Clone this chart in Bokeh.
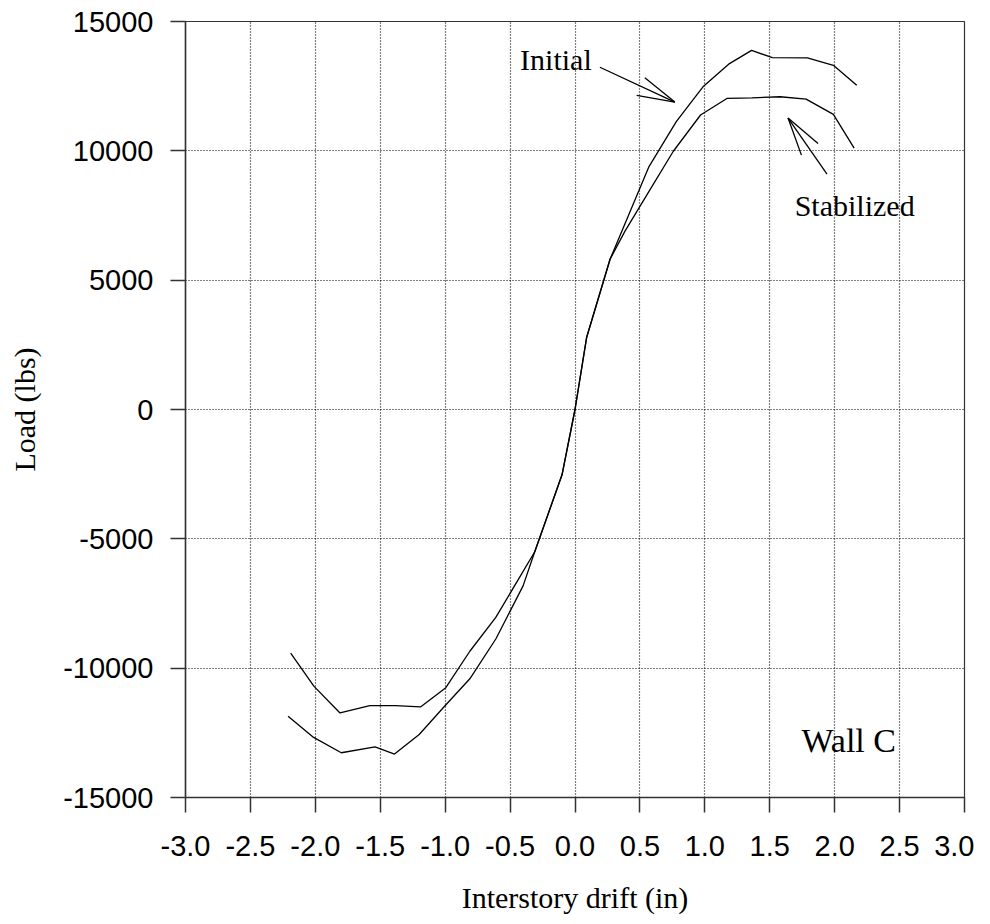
from bokeh.plotting import figure
from bokeh.embed import file_html
from bokeh.resources import INLINE
from bokeh.models import FixedTicker, NumeralTickFormatter, PrintfTickFormatter, Range1d
from bokeh.core.properties import value

# Data
initial_x = [-2.21, -2.02, -1.80, -1.54, -1.39, -1.20, -1.01, -0.81, -0.61, -0.40, -0.31,
             -0.10, 0.0, 0.09, 0.27, 0.57, 0.78, 0.99, 1.19, 1.36, 1.52, 1.79, 1.99, 2.17]
initial_y = [-11858, -12654, -13270, -13040, -13320, -12565, -11500, -10410, -8873, -6820, -5500,
             -2526, 0, 2795, 5808, 9390, 11127, 12500, 13372, 13885, 13603, 13590, 13308, 12538]

stab_x = [-2.19, -2.01, -1.81, -1.58, -1.385, -1.19, -0.995, -0.81, -0.61, -0.31,
          -0.10, 0.0, 0.09, 0.27, 0.385, 0.57, 0.756, 0.967, 1.17, 1.364, 1.58, 1.78, 1.99, 2.15]
stab_y = [-9423, -10705, -11731, -11449, -11449, -11500, -10756, -9346, -8038, -5500,
          -2526, 0, 2795, 5808, 6897, 8430, 9974, 11385, 12025, 12050, 12090, 12000, 11410, 10103]

x_ticks = [-3.0, -2.5, -2.0, -1.5, -1.0, -0.5, 0.0, 0.5, 1.0, 1.5, 2.0, 2.5, 3.0]
y_ticks = [-15000, -10000, -5000, 0, 5000, 10000, 15000]

# annotation arrows (tail -> tip, two head strokes)
initial_arrow_x = [[0.192, 0.769], [0.538, 0.769], [0.475, 0.769]]
initial_arrow_y = [[13231, 11885], [12823, 11885], [12142, 11885]]
stab_arrow_x = [[1.941, 1.641], [1.744, 1.641], [1.872, 1.641]]
stab_arrow_y = [[9104, 11269], [9834, 11269], [10284, 11269]]

labels_text = ["Initial", "Stabilized", "Wall C"]
labels_x = [-0.423, 1.692, 1.744]
labels_y = [13540, 7900, -12780]

p = figure(width=974, height=916, output_backend="svg", toolbar_location=None,
           x_range=Range1d(-3, 3), y_range=Range1d(-15000, 15000),
           min_border_left=185, min_border_top=21, min_border_right=10, min_border_bottom=116)
p.background_fill_color = "white"
p.border_fill_color = "white"
p.outline_line_color = "#333333"
p.outline_line_width = 1.2

for g in (p.xgrid[0], p.ygrid[0]):
    g.grid_line_color = "black"
    g.grid_line_dash = "1 2"
    g.grid_line_width = 1.2

p.xaxis.ticker = FixedTicker(ticks=x_ticks)
p.yaxis.ticker = FixedTicker(ticks=y_ticks)
p.xgrid.ticker = FixedTicker(ticks=x_ticks)
p.ygrid.ticker = FixedTicker(ticks=y_ticks)
p.xaxis.formatter = NumeralTickFormatter(format="0.0")
p.yaxis.formatter = PrintfTickFormatter(format="%d")

for ax in (p.xaxis[0], p.yaxis[0]):
    ax.axis_line_color = "#333333"
    ax.axis_line_width = 1.5
    ax.major_tick_line_color = "#333333"
    ax.major_tick_line_width = 1.5
    ax.major_tick_out = 15
    ax.major_tick_in = 0
    ax.minor_tick_out = 0
    ax.minor_tick_in = 0
    ax.major_label_text_font = "Liberation Sans"
    ax.major_label_text_font_size = "29px"
    ax.major_label_text_color = "black"
    ax.axis_label_text_font = "Liberation Serif"
    ax.axis_label_text_font_size = "30px"
    ax.axis_label_text_font_style = "normal"
    ax.axis_label_text_color = "black"

p.xaxis.axis_label = "Interstory drift (in)"
p.yaxis.axis_label = "Load (lbs)"
p.xaxis.major_label_standoff = 23
p.yaxis.major_label_standoff = 17
p.xaxis.axis_label_standoff = 22
p.yaxis.axis_label_standoff = 19

p.line(initial_x, initial_y, line_color="black", line_width=1.3)
p.line(stab_x, stab_y, line_color="black", line_width=1.3)

p.multi_line(initial_arrow_x, initial_arrow_y, line_color="black", line_width=1.3)
p.multi_line(stab_arrow_x, stab_arrow_y, line_color="black", line_width=1.3)

p.text(labels_x[:2], labels_y[:2], text=labels_text[:2], text_font=value("Liberation Serif"),
       text_font_size="30px", text_color="black", text_baseline="alphabetic", text_align="left")
p.text(labels_x[2:], labels_y[2:], text=labels_text[2:], text_font=value("Liberation Serif"),
       text_font_size="34px", text_color="black", text_baseline="alphabetic", text_align="left")

open("out.html", "w").write(file_html(p, INLINE))
